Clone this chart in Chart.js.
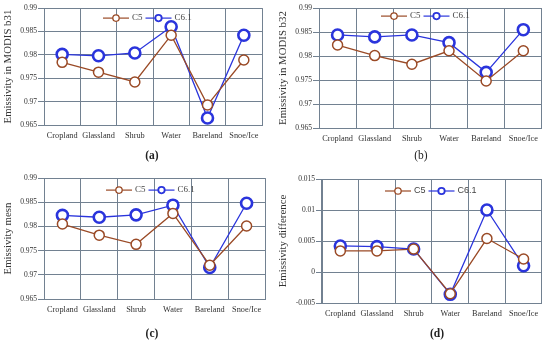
<!DOCTYPE html>
<html>
<head>
<meta charset="utf-8">
<script src="https://cdn.jsdelivr.net/npm/chart.js@4"></script>
<style>
  body { margin: 0; background: #fff; }
  #wrap { position: relative; width: 550px; height: 341px; overflow: hidden; }
  .panel { position: absolute; }
  .cap { position: absolute; font-family: "Liberation Serif", serif; font-size: 11.5px; color: #222; transform: translate(-50%, -50%); }
</style>
</head>
<body>
<div id="wrap">
  <canvas class="panel" id="chartA" width="275" height="170" style="left:0;top:0"></canvas>
  <canvas class="panel" id="chartB" width="275" height="170" style="left:275px;top:0"></canvas>
  <canvas class="panel" id="chartC" width="275" height="171" style="left:0;top:170px"></canvas>
  <canvas class="panel" id="chartD" width="275" height="171" style="left:275px;top:170px"></canvas>
  <div class="cap" style="left:152px;top:155px;font-weight:bold">(a)</div>
  <div class="cap" style="left:421px;top:155px">(b)</div>
  <div class="cap" style="left:152px;top:333px;font-weight:bold">(c)</div>
  <div class="cap" style="left:437px;top:333px;font-weight:bold">(d)</div>
</div>
<script>
const categories = ['Cropland', 'Glassland', 'Shrub', 'Water', 'Bareland', 'Snoe/Ice'];

const b31C5 = [0.9784, 0.9763, 0.9742, 0.9842, 0.9693, 0.9789];
const b31C61 = [0.9801, 0.9798, 0.9804, 0.9860, 0.9665, 0.9842];

const b32C5 = [0.9823, 0.9801, 0.9783, 0.9811, 0.9748, 0.9811];
const b32C61 = [0.9844, 0.9840, 0.9844, 0.9828, 0.9766, 0.9855];

const meanC5 = [0.9805, 0.9782, 0.9763, 0.9827, 0.9720, 0.9801];
const meanC61 = [0.9823, 0.9819, 0.9824, 0.9844, 0.9715, 0.9848];

const diffC5 = [0.0034, 0.0034, 0.0037, -0.0035, 0.0054, 0.0021];
const diffC61 = [0.0042, 0.0041, 0.0037, -0.0036, 0.0100, 0.0010];

const brown = '#9a4a26';
const blue = '#2a34dc';
const gridColor = '#728191';

// small inline legend: line with open circle, then label
const lineLegend = {
  id: 'lineLegend',
  afterDraw(chart, args, opts) {
    const ctx = chart.ctx;
    const area = chart.chartArea;
    let x = area.left + opts.dx;
    const y = area.top + opts.dy;
    ctx.save();
    ctx.font = opts.font;
    ctx.textBaseline = 'middle';
    chart.data.datasets.forEach(ds => {
      ctx.strokeStyle = ds.borderColor;
      ctx.lineWidth = 1.2;
      ctx.beginPath();
      ctx.moveTo(x, y);
      ctx.lineTo(x + 26, y);
      ctx.stroke();
      ctx.beginPath();
      ctx.arc(x + 13, y, 3.2, 0, Math.PI * 2);
      ctx.fillStyle = '#fff';
      ctx.fill();
      ctx.lineWidth = ds.label === 'C6.1' ? 1.8 : 1.3;
      ctx.stroke();
      ctx.fillStyle = '#444';
      ctx.fillText(ds.label, x + 29, y);
      x += 29 + ctx.measureText(ds.label).width + 3;
    });
    ctx.restore();
  }
};

function makeChart(id, c5, c61, yTitle, yMin, yMax, pad, legend) {
  return new Chart(document.getElementById(id), {
    type: 'line',
    data: {
      labels: categories,
      datasets: [
        {
          label: 'C5',
          data: c5,
          borderColor: brown,
          borderWidth: 1.3,
          pointRadius: 5,
          pointBorderWidth: 1.5,
          pointBackgroundColor: '#fff',
          pointBorderColor: brown,
          tension: 0
        },
        {
          label: 'C6.1',
          data: c61,
          borderColor: blue,
          borderWidth: 1.3,
          pointRadius: 5.5,
          pointBorderWidth: 2.6,
          pointBackgroundColor: '#fff',
          pointBorderColor: blue,
          tension: 0
        }
      ]
    },
    options: {
      responsive: false,
      animation: false,
      layout: { padding: { left: 0, right: pad.right, top: pad.top, bottom: 0 } },
      plugins: {
        legend: { display: false },
        tooltip: { enabled: false },
        lineLegend: legend
      },
      scales: {
        x: {
          offset: true,
          grid: { offset: true, color: gridColor, lineWidth: 1, drawTicks: false },
          border: { color: gridColor },
          ticks: { color: '#333', padding: 6, font: { family: 'Liberation Serif', size: 8.3 }, maxRotation: 0, autoSkip: false },
          afterFit: s => { s.height = pad.bottom; }
        },
        y: {
          min: yMin,
          max: yMax,
          grid: { color: gridColor, lineWidth: 1, tickLength: 6 },
          border: { color: gridColor },
          ticks: {
            stepSize: 0.005,
            color: '#333',
            padding: 1,
            font: { family: 'Liberation Serif', size: 7.5 },
            callback: v => String(+v.toFixed(3))
          },
          title: {
            display: true,
            text: yTitle,
            color: '#333',
            padding: { top: 2, bottom: 0 },
            font: { family: 'Liberation Serif', size: 10.8 }
          },
          afterFit: s => { s.width = pad.left; }
        }
      }
    },
    plugins: [lineLegend]
  });
}

const serifLegend = '9px "Liberation Serif"';

const chartA = makeChart('chartA', b31C5, b31C61, 'Emissivity in MODIS b31', 0.965, 0.99,
  { left: 44, right: 13, top: 5, bottom: 45 }, { dx: 59, dy: 10, font: serifLegend });
const chartB = makeChart('chartB', b32C5, b32C61, 'Emissivity in MODIS b32', 0.965, 0.99,
  { left: 44, right: 8, top: 8, bottom: 42 }, { dx: 62, dy: 8, font: serifLegend });
const chartC = makeChart('chartC', meanC5, meanC61, 'Emissivity mesn', 0.965, 0.99,
  { left: 44, right: 10, top: 6, bottom: 42 }, { dx: 62, dy: 12, font: serifLegend });
const chartD = makeChart('chartD', diffC5, diffC61, 'Emissivity difference', -0.005, 0.015,
  { left: 47, right: 6, top: 9, bottom: 38 }, { dx: 63, dy: 12, font: '9px "Liberation Sans"' });
</script>
</body>
</html>
